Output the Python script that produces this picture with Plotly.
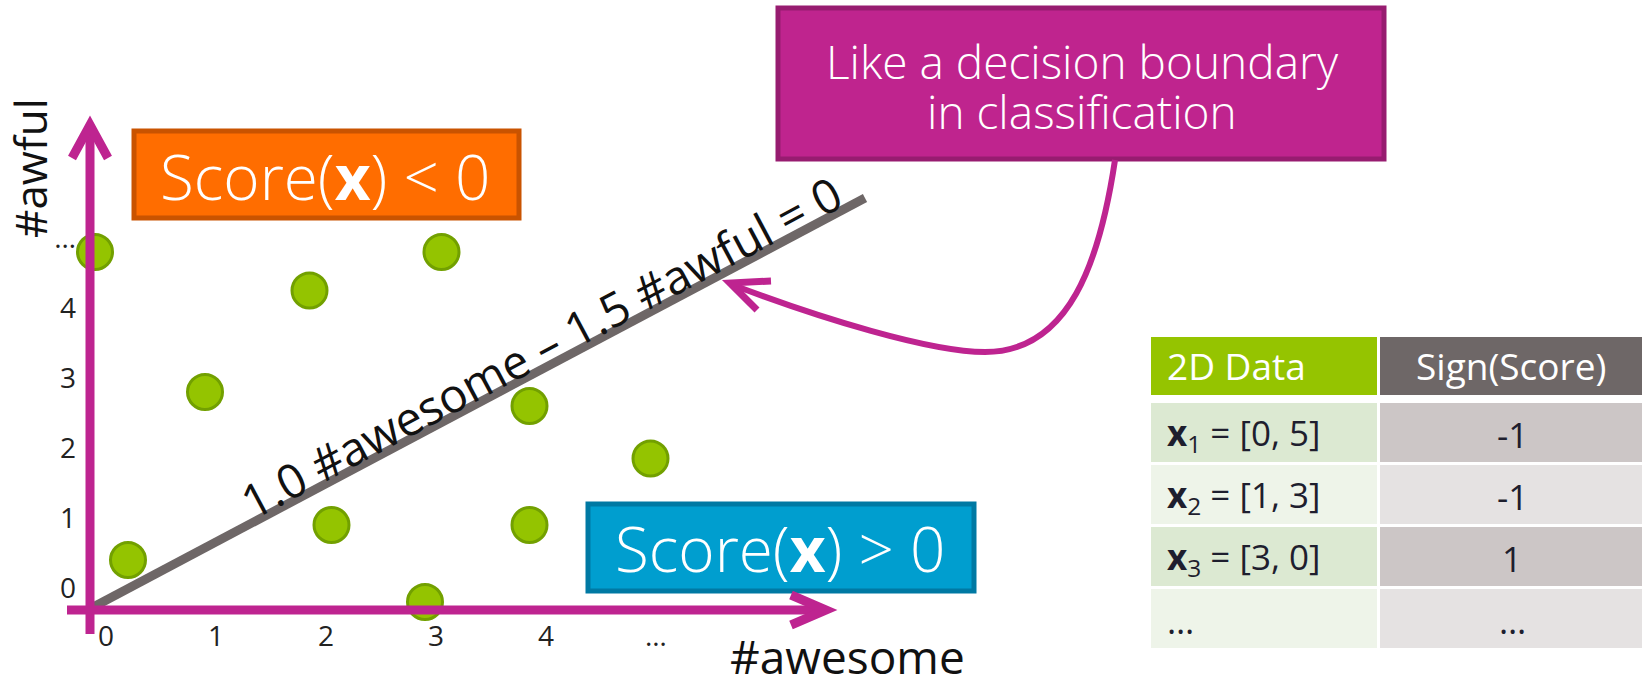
import plotly.graph_objects as go

# ---- data -------------------------------------------------------------
# labelled examples from the table (#awesome, #awful)
table_x = [0, 1, 3]
table_y = [5, 3, 0]
# remaining sketched examples
other_x = [0.3, 1.95, 3.15, 2.15, 3.95, 3.95, 5.05]
other_y = [0.6, 4.45, 5.0, 1.1, 1.1, 2.8, 2.05]

# decision boundary 1.0 #awesome - 1.5 #awful = 0 as sketched
boundary_x = [-0.05, 7.0]
boundary_y = [-0.1, 5.77]

tick_vals = [0, 1, 2, 3, 4, 5]
x_tick_text = ["0", "1", "2", "3", "4", "…"]
y_tick_text = ["0", "1", "2", "3", "4", "…"]

table_header = ["2D Data", "Sign(Score)"]
table_rows = ["<b>x</b><sub>1</sub> = [0, 5]", "<b>x</b><sub>2</sub> = [1, 3]",
              "<b>x</b><sub>3</sub> = [3, 0]", "…"]
table_sign = ["-1", "-1", "1", "…"]

# ---- geometry helpers ------------------------------------------------
W, H = 1642, 678
FONT = "Open Sans"
MAGENTA = "#BE2490"
INK = "#111111"


def px(v):
    return v / W


def py(v):
    return 1 - v / H


# pixel scale of the data axes
X0, XS = 95, 110
Y0, YS = 602, 70

fig = go.Figure()

fig.add_trace(go.Scatter(
    x=boundary_x, y=boundary_y, mode="lines",
    line=dict(color="#6E6767", width=9), hoverinfo="skip", showlegend=False))

fig.add_trace(go.Scatter(
    x=table_x + other_x, y=table_y + other_y, mode="markers",
    marker=dict(size=35, color="#94C400", line=dict(color="#72A000", width=3)),
    showlegend=False))

shapes = []
annotations = []

# axis arrows
shapes.append(dict(type="line", xref="paper", yref="paper",
                   x0=px(67), y0=py(610), x1=px(822), y1=py(610),
                   line=dict(color=MAGENTA, width=9)))
shapes.append(dict(type="path", xref="paper", yref="paper",
                   path=f"M {px(791)},{py(595)} L {px(826)},{py(610)} L {px(791)},{py(625)}",
                   line=dict(color=MAGENTA, width=9)))
shapes.append(dict(type="line", xref="paper", yref="paper",
                   x0=px(90), y0=py(634), x1=px(90), y1=py(130),
                   line=dict(color=MAGENTA, width=9)))
shapes.append(dict(type="path", xref="paper", yref="paper",
                   path=f"M {px(72)},{py(158)} L {px(90)},{py(125)} L {px(108)},{py(158)}",
                   line=dict(color=MAGENTA, width=9)))

# region boxes and callout
shapes.append(dict(type="rect", xref="paper", yref="paper", layer="below",
                   x0=px(134), y0=py(218), x1=px(519), y1=py(131),
                   fillcolor="#FF6D00", line=dict(color="#C95300", width=5)))
shapes.append(dict(type="rect", xref="paper", yref="paper", layer="below",
                   x0=px(588), y0=py(591), x1=px(974), y1=py(504),
                   fillcolor="#009ECF", line=dict(color="#0079A3", width=5)))
shapes.append(dict(type="rect", xref="paper", yref="paper",
                   x0=px(778), y0=py(159), x1=px(1384), y1=py(8),
                   fillcolor="#BF248E", line=dict(color="#971C70", width=5)))
shapes.append(dict(type="path", xref="paper", yref="paper",
                   path=(f"M {px(1115)},{py(160)} C {px(1100)},{py(260)} {px(1070)},{py(352)} {px(985)},{py(352)} "
                         f"C {px(930)},{py(352)} {px(820)},{py(318)} {px(733)},{py(285)}"),
                   line=dict(color=MAGENTA, width=6)))
shapes.append(dict(type="path", xref="paper", yref="paper",
                   path=f"M {px(771)},{py(281)} L {px(730)},{py(283)} L {px(757)},{py(310)}",
                   line=dict(color=MAGENTA, width=7)))

annotations += [
    dict(xref="paper", yref="paper", x=px(325), y=py(176), showarrow=False,
         text="Score(<b>x</b>) &lt; 0", font=dict(family=FONT, size=62, color="white", weight=300),
         xanchor="center", yanchor="middle"),
    dict(xref="paper", yref="paper", x=px(780), y=py(548), showarrow=False,
         text="Score(<b>x</b>) &gt; 0", font=dict(family=FONT, size=62, color="white", weight=300),
         xanchor="center", yanchor="middle"),
    dict(xref="paper", yref="paper", x=px(1082), y=py(61), showarrow=False,
         text="Like a decision boundary",
         font=dict(family=FONT, size=46, color="white", weight=300),
         xanchor="center", yanchor="middle"),
    dict(xref="paper", yref="paper", x=px(1082), y=py(111), showarrow=False,
         text="in classification",
         font=dict(family=FONT, size=46, color="white", weight=300),
         xanchor="center", yanchor="middle"),
    dict(xref="x", yref="y", x=(541 - X0) / XS, y=(Y0 - 347) / YS, showarrow=False,
         text="1.0 #awesome – 1.5 #awful = 0", textangle=-28,
         font=dict(family=FONT, size=47, color=INK),
         xanchor="center", yanchor="middle"),
    dict(xref="paper", yref="paper", x=px(30), y=py(168), showarrow=False,
         text="#awful", textangle=-90,
         font=dict(family=FONT, size=44, color=INK),
         xanchor="center", yanchor="middle"),
    dict(xref="paper", yref="paper", x=px(728), y=py(656), showarrow=False,
         text="#awesome",
         font=dict(family=FONT, size=46, color=INK),
         xanchor="left", yanchor="middle"),
    dict(xref="paper", yref="paper", x=px(750), y=py(671), showarrow=False,
         text="©2015 Emily Fox &amp; Carlos Guestrin",
         font=dict(family=FONT, size=20, color="#B5B5B5"),
         xanchor="left", yanchor="top"),
]

# ---- table: header plus body rows --------------------------------------
T_LEFT, T_MID, T_RIGHT = 1151, 1378, 1645
HEAD_TOP, HEAD_BOT = 337, 395
ROW_TOP, ROW_PITCH, ROW_H = 403, 62, 59
head_fill = ["#95C400", "#6E6767"]
left_fill = ["#DCE9D2", "#EEF4E9"]
right_fill = ["#CCC6C6", "#E5E2E2"]

shapes.append(dict(type="rect", xref="paper", yref="paper", layer="below",
                   x0=px(T_LEFT), x1=px(T_MID - 1), y0=py(HEAD_BOT), y1=py(HEAD_TOP),
                   fillcolor=head_fill[0], line=dict(width=0)))
shapes.append(dict(type="rect", xref="paper", yref="paper", layer="below",
                   x0=px(T_MID + 2), x1=px(T_RIGHT), y0=py(HEAD_BOT), y1=py(HEAD_TOP),
                   fillcolor=head_fill[1], line=dict(width=0)))
head_mid = (HEAD_TOP + HEAD_BOT) / 2
annotations.append(dict(xref="paper", yref="paper", x=px(T_LEFT + 14), y=py(head_mid),
                        text=table_header[0], showarrow=False, xanchor="left", yanchor="middle",
                        font=dict(family=FONT, size=37, color="white")))
annotations.append(dict(xref="paper", yref="paper", x=px(1511), y=py(head_mid),
                        text=table_header[1], showarrow=False, xanchor="center", yanchor="middle",
                        font=dict(family=FONT, size=37, color="white")))

for i, (lab, sgn) in enumerate(zip(table_rows, table_sign)):
    top = ROW_TOP + i * ROW_PITCH
    bot = top + ROW_H
    mid = (top + bot) / 2
    shapes.append(dict(type="rect", xref="paper", yref="paper", layer="below",
                       x0=px(T_LEFT), x1=px(T_MID - 1), y0=py(bot), y1=py(top),
                       fillcolor=left_fill[i % 2], line=dict(width=0)))
    shapes.append(dict(type="rect", xref="paper", yref="paper", layer="below",
                       x0=px(T_MID + 2), x1=px(T_RIGHT), y0=py(bot), y1=py(top),
                       fillcolor=right_fill[i % 2], line=dict(width=0)))
    annotations.append(dict(xref="paper", yref="paper", x=px(T_LEFT + 14), y=py(mid + 2),
                            text=lab, showarrow=False, xanchor="left", yanchor="middle",
                            font=dict(family=FONT, size=35, color="#1E1E2E")))
    annotations.append(dict(xref="paper", yref="paper", x=px(1512), y=py(mid + 2),
                            text=sgn, showarrow=False, xanchor="center", yanchor="middle",
                            font=dict(family=FONT, size=35, color="#1E1E2E")))

fig.update_layout(
    width=W, height=H,
    margin=dict(l=0, r=0, t=0, b=0),
    paper_bgcolor="white", plot_bgcolor="white",
    shapes=shapes, annotations=annotations,
    xaxis=dict(range=[-X0 / XS, (W - X0) / XS], domain=[0, 1],
               anchor="free", position=py(610),
               showgrid=False, zeroline=False, showline=False, ticks="",
               tickvals=tick_vals, ticktext=x_tick_text,
               tickfont=dict(family=FONT, size=28, color="#222222"),
               ticklabelshift=11, ticklabelstandoff=7, automargin=False),
    yaxis=dict(range=[(Y0 - H) / YS, Y0 / YS], domain=[0, 1],
               anchor="free", position=px(90),
               showgrid=False, zeroline=False, showline=False, ticks="",
               tickvals=tick_vals, ticktext=y_tick_text,
               tickfont=dict(family=FONT, size=28, color="#222222"),
               ticklabelshift=-14, ticklabelstandoff=14, automargin=False),
)

fig.write_html("out.html")
